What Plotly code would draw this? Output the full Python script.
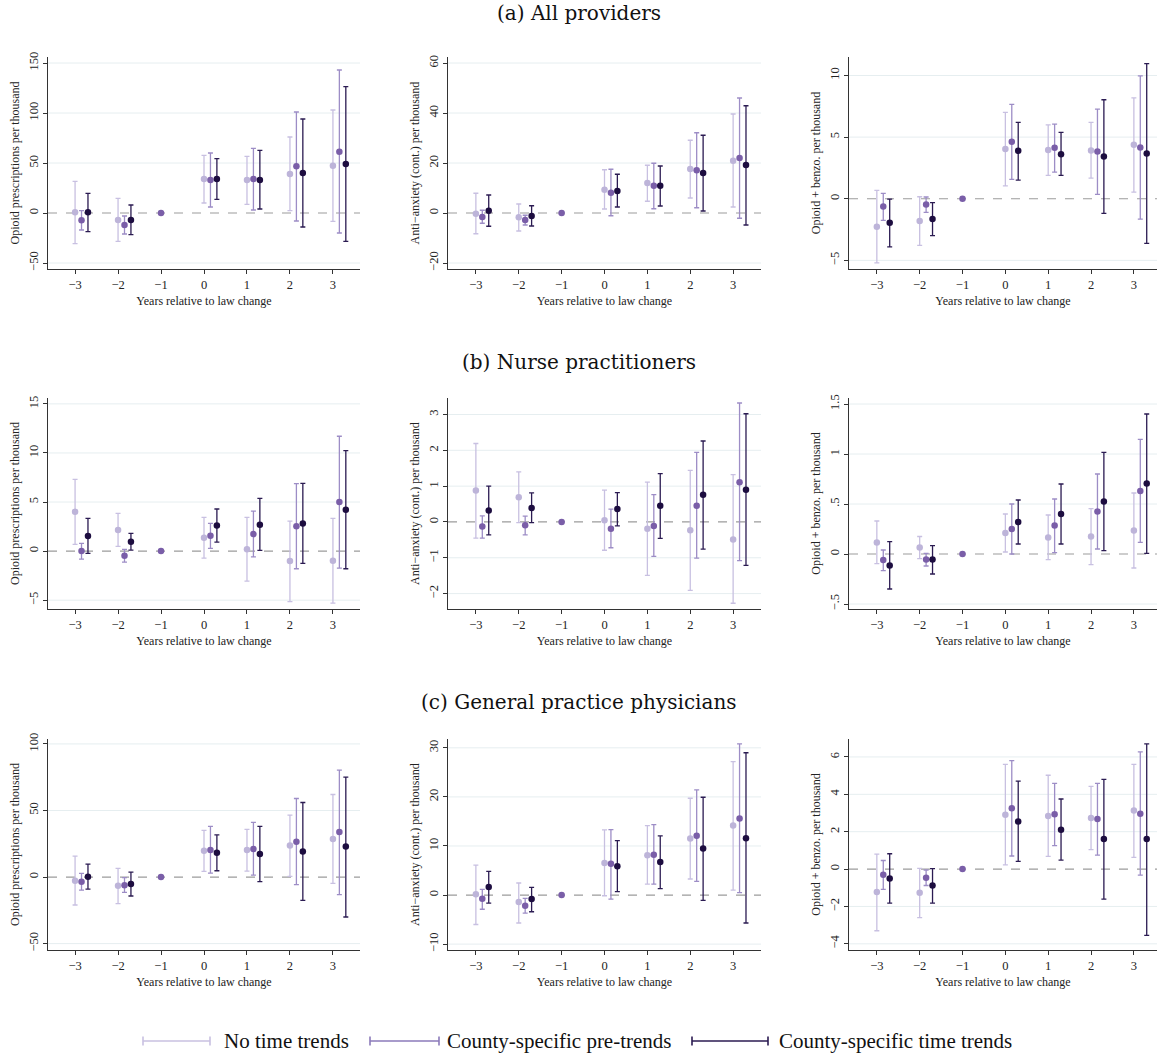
import plotly.graph_objects as go

W, H = 1157, 1059

# ---------------- data ----------------
periods = [-3, -2, 0, 1, 2, 3]
ref_period = -1
tick_periods = [-3, -2, -1, 0, 1, 2, 3]
series_names = ["No time trends", "County-specific pre-trends", "County-specific time trends"]
section_titles = ["(a) All providers", "(b) Nurse practitioners", "(c) General practice physicians"]
outcome_titles = ["Opioid prescriptions per thousand",
                  "Anti\u2212anxiety (cont.) per thousand",
                  "Opioid + benzo. per thousand"]
x_title = "Years relative to law change"

# (a) All providers
a_opioid_est = [[0.7, -7, 34, 33, 39, 47.3], [-7.3, -12, 33, 34, 46.7, 61.3], [0.7, -7, 34, 33, 40, 49]]
a_opioid_lo = [[-30.7, -28.3, 10, 8.7, 2.3, -8.3], [-17, -21, 6, 3, -8, -20], [-18.7, -21.7, 13.7, 4, -14, -28.3]]
a_opioid_hi = [[31.7, 14.7, 57.7, 56.7, 76, 103], [2.3, -3, 60, 64.7, 101, 143], [19.7, 8, 54.3, 62.7, 94, 126.3]]

a_anx_est = [[-0.3, -1.7, 9.3, 12, 17.6, 20.9], [-1.6, -2.8, 8.1, 10.9, 17.1, 22], [0.9, -1.2, 8.8, 10.9, 16, 19.2]]
a_anx_lo = [[-8.3, -7.2, 1.6, 4.7, 6, 2.4], [-4.1, -4.8, -1.1, 1.7, 2.1, -2.1], [-5.3, -5.2, 2.4, 2.8, 0.8, -4.8]]
a_anx_hi = [[7.9, 3.6, 17.3, 19.1, 29.1, 39.6], [1.1, -0.9, 17.5, 19.9, 32.1, 46], [7.2, 2.9, 15.5, 18.8, 31.1, 42.9]]

a_ob_est = [[-2.27, -1.81, 4.03, 3.95, 3.92, 4.38], [-0.62, -0.46, 4.62, 4.13, 3.84, 4.16], [-1.95, -1.65, 3.89, 3.62, 3.43, 3.68]]
a_ob_lo = [[-5.2, -3.78, 1.05, 1.89, 1.68, 0.54], [-1.76, -1.1, 1.57, 2.16, 0.35, -1.65], [-3.9, -3.0, 1.51, 1.89, -1.19, -3.62]]
a_ob_hi = [[0.68, 0.16, 7.0, 6.0, 6.19, 8.19], [0.43, 0.14, 7.65, 6.05, 7.27, 9.97], [-0.03, -0.32, 6.19, 5.38, 8.03, 10.97]]

# (b) Nurse practitioners
b_opioid_est = [[4.01, 2.14, 1.36, 0.2, -1.02, -0.99], [0, -0.48, 1.56, 1.73, 2.52, 5.0], [1.53, 0.95, 2.62, 2.69, 2.82, 4.22]]
b_opioid_lo = [[0.68, 0.48, -0.71, -3.06, -5.14, -5.3], [-0.82, -1.12, 0.27, -0.58, -1.8, -1.73], [-0.24, 0.1, 0.92, 0.07, -1.26, -1.8]]
b_opioid_hi = [[7.31, 3.84, 3.44, 3.44, 3.06, 3.33], [0.78, 0.17, 2.82, 4.08, 6.87, 11.7], [3.33, 1.8, 4.29, 5.37, 6.9, 10.24]]

b_anx_est = [[0.88, 0.69, 0.05, -0.19, -0.23, -0.49], [-0.13, -0.09, -0.19, -0.11, 0.45, 1.11], [0.32, 0.39, 0.36, 0.45, 0.76, 0.9]]
b_anx_lo = [[-0.45, -0.02, -0.79, -1.49, -1.91, -2.27], [-0.45, -0.36, -0.72, -0.96, -1.01, -1.08], [-0.36, -0.02, -0.11, -0.46, -0.76, -1.21]]
b_anx_hi = [[2.19, 1.4, 0.89, 1.11, 1.44, 1.32], [0.17, 0.16, 0.36, 0.76, 1.94, 3.32], [1.0, 0.81, 0.82, 1.35, 2.26, 3.02]]

b_ob_est = [[0.116, 0.066, 0.21, 0.166, 0.175, 0.235], [-0.06, -0.056, 0.25, 0.285, 0.424, 0.63], [-0.116, -0.056, 0.32, 0.4, 0.526, 0.705]]
b_ob_lo = [[-0.096, -0.046, 0.02, -0.056, -0.106, -0.14], [-0.166, -0.12, 0.0, 0.013, 0.05, 0.116], [-0.35, -0.2, 0.1, 0.1, 0.033, 0.007]]
b_ob_hi = [[0.33, 0.175, 0.4, 0.39, 0.454, 0.61], [0.04, 0.007, 0.5, 0.55, 0.8, 1.146], [0.123, 0.083, 0.54, 0.7, 1.017, 1.4]]

# (c) General practice physicians
c_opioid_est = [[-2.75, -6.5, 19.75, 20.25, 23.75, 28.5], [-3.5, -6.25, 20.25, 21, 26.5, 33.75], [0.25, -5.25, 18.25, 17.25, 19.25, 23]]
c_opioid_lo = [[-21, -20, 4.25, 4.5, 0.5, -4.75], [-9.75, -11.5, 3, 1.5, -5.75, -13.25], [-9, -14.25, 4.75, -3.5, -17.5, -30]]
c_opioid_hi = [[15.75, 6.5, 35, 35.75, 46.5, 62], [2.75, -0.5, 38, 41, 59, 80.25], [9.75, 3.75, 31.75, 38, 56, 75]]

c_anx_est = [[0.14, -1.43, 6.53, 8.1, 11.5, 14.15], [-0.75, -2.2, 6.4, 8.23, 12.1, 15.58], [1.63, -0.82, 5.85, 6.73, 9.46, 11.56]]
c_anx_lo = [[-6, -5.7, -0.14, 2.24, 3.27, 1.02], [-2.9, -3.7, -0.82, 2.24, 2.79, 0.48], [-1.63, -3.4, 0.68, 1.29, -1.09, -5.7]]
c_anx_hi = [[6.1, 2.45, 13.27, 14.15, 19.73, 27.2], [1.16, -0.68, 13.33, 14.35, 21.43, 30.8], [4.83, 1.56, 11.09, 12.04, 19.93, 29]]

c_ob_est = [[-1.23, -1.27, 2.91, 2.84, 2.73, 3.13], [-0.3, -0.46, 3.25, 2.93, 2.68, 2.96], [-0.5, -0.88, 2.55, 2.1, 1.61, 1.61]]
c_ob_lo = [[-3.3, -2.6, 0.23, 0.68, 1.04, 0.63], [-1.09, -0.88, 0.7, 1.25, 0.75, -0.32], [-1.82, -1.82, 0.41, 0.48, -1.61, -3.55]]
c_ob_hi = [[0.8, 0.04, 5.6, 5.02, 4.43, 5.6], [0.46, -0.05, 5.8, 4.59, 4.59, 6.27], [0.82, 0.02, 4.71, 3.75, 4.8, 6.7]]

# y-axis ticks per panel
a_opioid_ticks = [-50, 0, 50, 100, 150]
a_anx_ticks = [-20, 0, 20, 40, 60]
a_ob_ticks = [-5, 0, 5, 10]
b_opioid_ticks = [-5, 0, 5, 10, 15]
b_anx_ticks = [-2, -1, 0, 1, 2, 3]
b_ob_ticks = [-0.5, 0, 0.5, 1, 1.5]
c_opioid_ticks = [-50, 0, 50, 100]
c_anx_ticks = [-10, 0, 10, 20, 30]
c_ob_ticks = [-4, -2, 0, 2, 4, 6]

# ---------------- styling ----------------
FONT = "Liberation Serif"
TITLE_FONT = "DejaVu Serif"
offsets = [0.0, 0.15, 0.3]
marker_colors = ["#bdb4d9", "#7a5ea8", "#1d0d40"]
bar_colors = ["#c8c0e1", "#9d8dc6", "#2b1b52"]
legend_colors = ["#c8c0e1", "#8b7aba", "#2b1b52"]
axis_color = "#333333"
grid_color = "#e6eef0"

# pixel layout
col_px = [(48, 360), (448, 761), (849, 1157)]
row_px = [(57, 269), (398, 609), (739, 950)]
x_ranges = [[-3.63, 3.63], [-3.65, 3.65], [-3.65, 3.54]]
y_ranges = [
    [[-56, 156], [-22.4, 62.4], [-5.7, 11.5]],
    [[-5.9, 15.6], [-2.43, 3.46], [-0.55, 1.56]],
    [[-54.8, 103.7], [-11.2, 31.8], [-4.33, 6.96]],
]
title_y_px = [13, 362, 702]
legend_y_px = 1041
legend_line_px = [(143, 210), (370, 439), (692, 768)]
legend_text_px = [222, 445, 777]


def fmt(v):
    s = ("%g" % v)
    if s.startswith("0."):
        s = s[1:]
    elif s.startswith("-0."):
        s = "-" + s[2:]
    return s.replace("-", "\u2212")


panels = [
    [(a_opioid_est, a_opioid_lo, a_opioid_hi, a_opioid_ticks),
     (a_anx_est, a_anx_lo, a_anx_hi, a_anx_ticks),
     (a_ob_est, a_ob_lo, a_ob_hi, a_ob_ticks)],
    [(b_opioid_est, b_opioid_lo, b_opioid_hi, b_opioid_ticks),
     (b_anx_est, b_anx_lo, b_anx_hi, b_anx_ticks),
     (b_ob_est, b_ob_lo, b_ob_hi, b_ob_ticks)],
    [(c_opioid_est, c_opioid_lo, c_opioid_hi, c_opioid_ticks),
     (c_anx_est, c_anx_lo, c_anx_hi, c_anx_ticks),
     (c_ob_est, c_ob_lo, c_ob_hi, c_ob_ticks)],
]

fig = go.Figure()
layout_axes = {}
shapes = []
annotations = []

k = 0
for r in range(3):
    for c in range(3):
        k += 1
        xname = "x" if k == 1 else f"x{k}"
        yname = "y" if k == 1 else f"y{k}"
        est, lo, hi, yticks = panels[r][c]
        for s in range(3):
            fig.add_trace(go.Scatter(
                x=[t + offsets[s] for t in periods],
                y=est[s],
                mode="markers",
                marker=dict(color=marker_colors[s], size=6.5),
                error_y=dict(type="data", symmetric=False,
                             array=[h - e for h, e in zip(hi[s], est[s])],
                             arrayminus=[e - l for e, l in zip(est[s], lo[s])],
                             color=bar_colors[s], thickness=1.3, width=2.5),
                xaxis=xname, yaxis=yname, showlegend=False,
                name=series_names[s], hoverinfo="x+y",
            ))
        # reference period (normalised to zero)
        fig.add_trace(go.Scatter(
            x=[ref_period], y=[0], mode="markers",
            marker=dict(color=marker_colors[1], size=6.5),
            xaxis=xname, yaxis=yname, showlegend=False, hoverinfo="x+y",
        ))
        x0, x1 = col_px[c]
        y0, y1 = row_px[r]
        xkey = "xaxis" if k == 1 else f"xaxis{k}"
        ykey = "yaxis" if k == 1 else f"yaxis{k}"
        layout_axes[xkey] = dict(
            domain=[x0 / W, min(x1 / W, 1.0)], anchor=yname, range=x_ranges[c],
            tickmode="array", tickvals=tick_periods, ticktext=[fmt(t) for t in tick_periods],
            showgrid=False, zeroline=False, showline=True, linecolor=axis_color, linewidth=1,
            ticks="outside", ticklen=4, tickcolor=axis_color,
            tickfont=dict(family=FONT, size=12.5, color="#222"),
            title=dict(text=x_title, font=dict(family=FONT, size=12, color="#222"), standoff=5),
            automargin=False,
        )
        layout_axes[ykey] = dict(
            domain=[1 - y1 / H, 1 - y0 / H], anchor=xname, range=y_ranges[r][c],
            tickmode="array", tickvals=yticks, ticktext=[fmt(t) for t in yticks],
            tickangle=-90,
            showgrid=False,
            zeroline=False, showline=True, linecolor=axis_color, linewidth=1,
            ticks="outside", ticklen=4, tickcolor=axis_color,
            tickfont=dict(family=FONT, size=12.5, color="#222"),
            title=dict(text=outcome_titles[c], font=dict(family=FONT, size=12, color="#222"), standoff=4),
            automargin=False,
        )
        # horizontal grid at the y ticks (zero gets the dashed reference line instead)
        for tv in yticks:
            if tv == 0:
                continue
            shapes.append(dict(type="line", xref=f"{xname} domain", yref=yname,
                               x0=0, x1=1, y0=tv, y1=tv, layer="below",
                               line=dict(color=grid_color, width=1)))
        shapes.append(dict(type="line", xref=f"{xname} domain", yref=yname,
                           x0=0, x1=1, y0=0, y1=0, layer="below",
                           line=dict(color="#9c9c9c", width=1.2, dash="dash")))
    annotations.append(dict(text=section_titles[r], xref="paper", yref="paper",
                            x=0.5, y=1 - title_y_px[r] / H, xanchor="center", yanchor="middle",
                            showarrow=False, font=dict(family=TITLE_FONT, size=20, color="#111")))

# hand-drawn legend keys (capped lines, like the rcap keys of the original)
ly = 1 - legend_y_px / H
cap = 4.5 / H
for s in range(3):
    lx0, lx1 = legend_line_px[s]
    lc = dict(color=legend_colors[s], width=1.6)
    shapes.append(dict(type="line", xref="paper", yref="paper", x0=lx0 / W, x1=lx1 / W, y0=ly, y1=ly, line=lc))
    shapes.append(dict(type="line", xref="paper", yref="paper", x0=lx0 / W, x1=lx0 / W, y0=ly - cap, y1=ly + cap, line=lc))
    shapes.append(dict(type="line", xref="paper", yref="paper", x0=lx1 / W, x1=lx1 / W, y0=ly - cap, y1=ly + cap, line=lc))
    annotations.append(dict(text=series_names[s], xref="paper", yref="paper",
                            x=legend_text_px[s] / W, y=ly, xanchor="left", yanchor="middle",
                            showarrow=False, font=dict(family=FONT, size=21, color="#111")))

fig.update_layout(
    width=W, height=H, autosize=False,
    margin=dict(l=0, r=0, t=0, b=0),
    paper_bgcolor="white", plot_bgcolor="white",
    shapes=shapes, annotations=annotations,
    showlegend=False,
    **layout_axes,
)

fig.write_html("out.html")
